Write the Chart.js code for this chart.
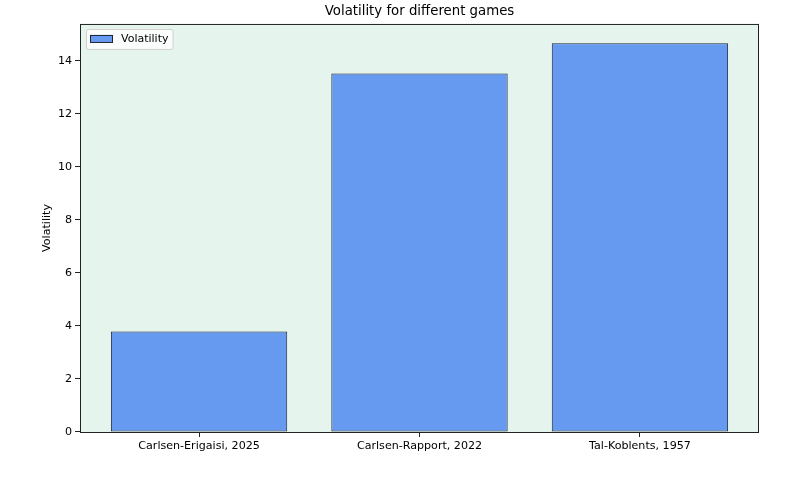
<!DOCTYPE html>
<html>
<head>
<meta charset="utf-8">
<script src="https://cdn.jsdelivr.net/npm/chart.js@4"></script>
<style>
  html, body { margin: 0; padding: 0; background: #fff; }
  #wrap { width: 800px; height: 480px; }
</style>
</head>
<body>
<div id="wrap"><canvas id="barChart" width="800" height="480"></canvas></div>
<script>
// data
const games = ['Carlsen-Erigaisi, 2025', 'Carlsen-Rapport, 2022', 'Tal-Koblents, 1957'];
const volatility = [3.79, 13.52, 14.66];
const yTicks = [0, 2, 4, 6, 8, 10, 12, 14];

Chart.defaults.font.family = '"DejaVu Sans", sans-serif';
Chart.defaults.color = '#000';

// plot background + frame + legend inside the axes
const axesPlugin = {
  id: 'axesBox',
  beforeDraw(chart) {
    const { ctx, chartArea: a } = chart;
    ctx.save();
    ctx.fillStyle = '#e5f5ee';
    ctx.fillRect(a.left, a.top, a.right - a.left, a.bottom - a.top);
    ctx.restore();
  },
  afterDraw(chart) {
    const { ctx, chartArea: a } = chart;
    ctx.save();
    ctx.strokeStyle = '#222';
    ctx.lineWidth = 1;
    ctx.strokeRect(a.left + 0.5, a.top + 0.5, a.right - a.left - 1, a.bottom - a.top);

    // legend
    const ds = chart.data.datasets[0];
    const x0 = a.left + 6, y0 = a.top + 5;
    ctx.font = '11px "DejaVu Sans"';
    const w = 22 + 9 + ctx.measureText(ds.label).width + 8;
    ctx.fillStyle = 'rgba(255,255,255,0.8)';
    ctx.strokeStyle = '#d0d0d0';
    ctx.beginPath();
    ctx.roundRect(x0 + 0.5, y0 + 0.5, w, 20, 2);
    ctx.fill();
    ctx.stroke();
    ctx.fillStyle = ds.backgroundColor;
    ctx.fillRect(x0 + 4, y0 + 6, 22, 7);
    ctx.strokeStyle = ds.borderColor;
    ctx.strokeRect(x0 + 4.5, y0 + 6.5, 22, 7);
    ctx.fillStyle = '#000';
    ctx.textBaseline = 'middle';
    ctx.fillText(ds.label, x0 + 35, y0 + 10.5);
    ctx.restore();
  }
};

const ctxBar = document.getElementById('barChart').getContext('2d');
const barChart = new Chart(ctxBar, {
  type: 'bar',
  data: {
    datasets: [{
      label: 'Volatility',
      data: volatility.map((v, i) => ({ x: i, y: v })),
      backgroundColor: '#6699f0',
      borderColor: '#1a2233',
      borderWidth: 1,
      borderSkipped: false,
      barPercentage: 0.8,
      categoryPercentage: 1.0
    }]
  },
  options: {
    responsive: false,
    animation: false,
    layout: { padding: { top: 0, right: 41, bottom: 0, left: 0 } },
    plugins: {
      legend: { display: false },
      tooltip: { enabled: false },
      title: {
        display: true,
        text: 'Volatility for different games',
        fullSize: false,
        font: { size: 13.3, weight: 'normal' },
        padding: { top: 4, bottom: 4 },
        color: '#000'
      }
    },
    scales: {
      x: {
        type: 'linear',
        min: -0.54,
        max: 2.54,
        offset: false,
        afterBuildTicks(scale) {
          scale.ticks = games.map((g, i) => ({ value: i }));
        },
        afterFit(scale) { scale.height = 48; },
        grid: { offset: false, drawOnChartArea: false, drawTicks: true, tickLength: 5, color: '#222' },
        border: { display: false },
        ticks: {
          font: { size: 11.1 },
          padding: 2,
          maxRotation: 0,
          autoSkip: false,
          callback: (v) => games[v]
        }
      },
      y: {
        min: 0,
        max: 15.39,
        afterBuildTicks(scale) {
          scale.ticks = yTicks.map(v => ({ value: v }));
        },
        afterFit(scale) { scale.width = 80; },
        grid: { drawOnChartArea: false, drawTicks: true, tickLength: 5, color: '#222' },
        border: { display: false },
        ticks: { font: { size: 11.1 }, padding: 3 },
        title: {
          display: true,
          text: 'Volatility',
          font: { size: 11.1 },
          padding: { top: 40, bottom: 0 }
        }
      }
    }
  },
  plugins: [axesPlugin]
});
</script>
</body>
</html>
